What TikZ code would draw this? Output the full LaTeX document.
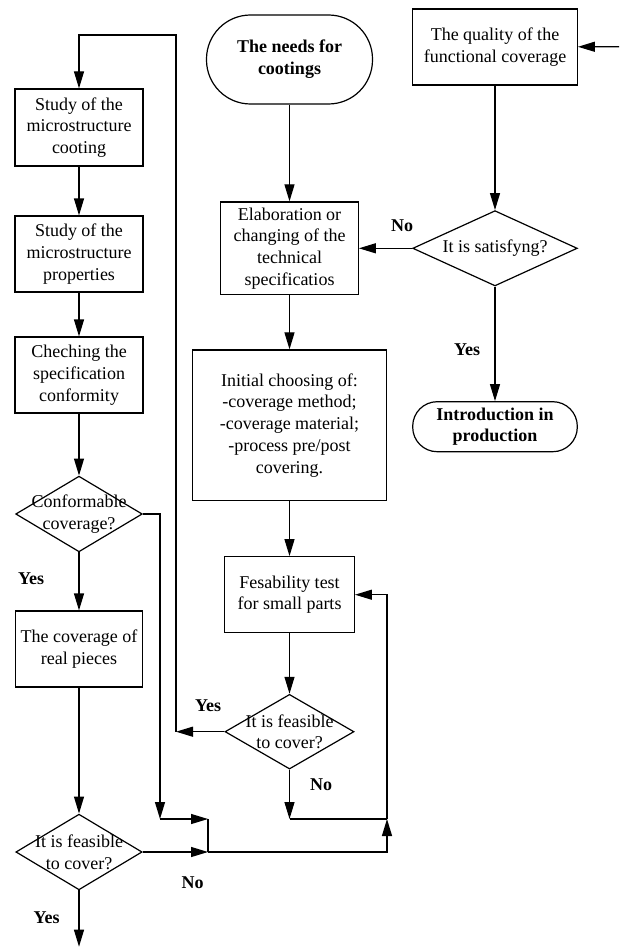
\documentclass[tikz,border=0pt]{standalone}
\usepackage{fontspec}
\setmainfont{Liberation Serif}
\usepackage{tikz}
\usetikzlibrary{arrows.meta}
\usetikzlibrary{shapes}
\usetikzlibrary{shapes.geometric}

\begin{document}
\begin{tikzpicture}[x=1pt, y=-1pt, line width=1.2pt,
  font=\fontsize{18}{21.7}\selectfont,
  box/.style={rectangle, draw=black, align=center, inner sep=0pt},
  term/.style={rectangle, draw=black, rounded corners=#1, align=center, inner sep=0pt, font=\fontsize{18}{21.7}\selectfont\bfseries},
  ask/.style={diamond, draw=black, inner sep=0pt},
  yn/.style={font=\fontsize{18}{21.7}\selectfont\bfseries},
  go/.style={-{Triangle[length=17pt, width=10pt]}, draw=black}]
 \useasboundingbox (0, 0) rectangle (619, 947);

 % middle and right column
 \node [term=44pt, minimum width=166pt, minimum height=89pt] (N) at (289.5, 59.5) {The needs for\\cootings};
 \node [box, minimum width=164.6pt, minimum height=76pt] (Q) at (495, 47) {The quality of the\\functional coverage};
 \node [box, minimum width=137.6pt, minimum height=92.7pt] (E) at (289.5, 248.3) {Elaboration or\\changing of the\\technical\\specificatios};
 \node [ask, minimum width=164.6pt, minimum height=75.3pt, label={[align=center]center:It is satisfyng?}] (D) at (495, 248.3) {};
 \node [term=24.5pt, minimum width=164.6pt, minimum height=50pt] (P) at (495, 426.7) {Introduction in\\production};
 \node [box, minimum width=194pt, minimum height=150.7pt] (I) at (289.5, 425.3) {Initial choosing of:\\-coverage method;\\-coverage material;\\-process pre/post\\covering.};
 \node [box, minimum width=129.7pt, minimum height=76pt] (T) at (289.5, 594.7) {Fesability test\\for small parts};
 \node [ask, minimum width=129pt, minimum height=74.7pt, label={[align=center]center:It is feasible\\to cover?}] (F) at (289.5, 731.7) {};

 % left column
 \node [box, minimum width=128pt, minimum height=77pt] (S1) at (79, 127.5) {Study of the\\microstructure\\cooting};
 \node [box, minimum width=128pt, minimum height=76pt] (S2) at (79, 254) {Study of the\\microstructure\\properties};
 \node [box, minimum width=128pt, minimum height=76pt] (S3) at (79, 375) {Cheching the\\specification\\conformity};
 \node [ask, minimum width=126.6pt, minimum height=75.7pt, label={[align=center]center:Conformable\\coverage?}] (C) at (79, 514) {};
 \node [box, minimum width=127.7pt, minimum height=76pt] (R) at (79, 649) {The coverage of\\real pieces};
 \node [ask, minimum width=126.3pt, minimum height=75.7pt, label={[align=center]center:It is feasible\\to cover?}] (F1) at (79, 852) {};

 % yes / no
 \node [yn] (No1) at (402, 226) {No};
 \node [yn] (Yes1) at (467, 350) {Yes};
 \node [yn] (Yes2) at (31, 579) {Yes};
 \node [yn] (Yes3) at (208, 705.7) {Yes};
 \node [yn] (No2) at (321, 785) {No};
 \node [yn] (No3) at (192.7, 882.7) {No};
 \node [yn] (Yes4) at (46.7, 918) {Yes};

 \coordinate (In) at (619, 46.7);
 \coordinate (Out) at (79, 946.7);
 \coordinate (J1) at (160, 819);
 \coordinate (J2) at (208, 819);
 \coordinate (J3) at (208, 852);
 \coordinate (J4) at (387, 852);
 \coordinate (J5) at (387, 819);
 \coordinate (J6) at (289.5, 819);
 \coordinate (J7) at (176, 731.7);
 \coordinate (J8) at (176, 35);

 \draw [go] (In) -- (Q);
 \draw [go] (N) -- (E);
 \draw [go] (Q) -- (D);
 \draw [go] (D) -- (E);
 \draw [go] (D) -- (P);
 \draw [go] (E) -- (I);
 \draw [go] (I) -- (T);
 \draw [go] (T) -- (F);
 \draw [go] (S1) -- (S2);
 \draw [go] (S2) -- (S3);
 \draw [go] (S3) -- (C);
 \draw [go] (C) -- (R);
 \draw [go] (R) -- (F1);
 \draw [go] (F1) -- (Out);

 \draw [go] (C.east) -| (J1);
 \draw [go] (J1) -- (J2);
 \draw (J2) -- (J3);
 \draw [go] (F1.east) -- (J3);
 \draw [go] (J3) -- (J4) -- (J5);
 \draw [go] (J5) |- (T.east);
 \draw [go] (F.south) -- (J6);
 \draw (J6) -- (J5);
 \draw [go] (F.west) -- (J7);
 \draw [go] (J7) -- (J8) -| (S1.north);
\end{tikzpicture}
\end{document}
